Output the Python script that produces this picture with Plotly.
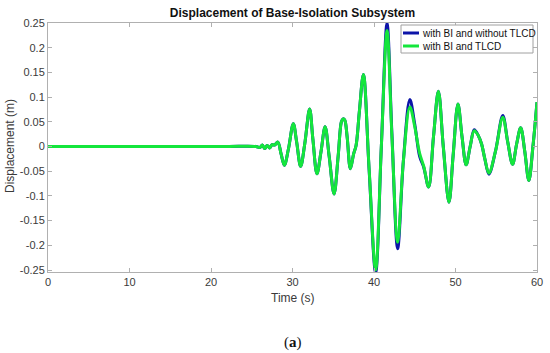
import plotly.graph_objects as go

time_s = [0, 8, 16, 22, 25.5, 26.0, 26.3, 26.6, 26.9, 27.2, 27.5, 27.8, 28.2, 28.6, 29.0, 29.5, 30.1, 30.5,
          31.0, 31.5, 32.1, 32.5, 33.0, 33.5, 34.0, 34.5, 35.1, 35.6, 36.0, 36.2, 36.4, 36.7,
          37.1, 37.5, 37.8, 38.2, 38.7, 39.4, 40.2, 40.9, 41.6, 42.2, 42.9, 43.6, 44.4, 45.0,
          45.6, 46.1, 46.7, 47.3, 47.9, 48.5, 49.2, 49.7, 50.3, 50.8, 51.3, 51.8, 52.3, 52.8,
          53.2, 53.6, 54.1, 54.9, 55.8, 56.4, 57.0, 57.5, 58.0, 58.5, 59.0, 59.5, 60.0]

disp_with_tlcd = [0, 0, 0, 0, 0, -0.002, 0.003, -0.004, 0.002, -0.003, 0.004, 0.003, 0.009, -0.015, -0.038,
                  -0.005, 0.046, 0.010, -0.040, 0.005, 0.076, 0.015, -0.055, -0.010, 0.040, -0.020,
                  -0.096, -0.020, 0.050, 0.056, 0.054, 0.020, -0.045, -0.015, 0.002, 0.070, 0.146,
                  -0.045, -0.250, 0.000, 0.235, 0.020, -0.194, -0.030, 0.080, 0.040, -0.014, -0.040,
                  -0.082, 0.020, 0.112, 0.000, -0.113, -0.020, 0.086, 0.020, -0.037, 0.000, 0.032,
                  0.022, 0.005, -0.025, -0.054, -0.010, 0.059, 0.010, -0.036, 0.005, 0.038, -0.010,
                  -0.069, 0.000, 0.090]

disp_without_tlcd = [0, 0, 0, 0, 0, -0.002, 0.003, -0.004, 0.002, -0.003, 0.004, 0.003, 0.009, -0.015, -0.038,
                     -0.005, 0.046, 0.010, -0.040, 0.005, 0.076, 0.015, -0.055, -0.010, 0.040, -0.020,
                     -0.096, -0.020, 0.050, 0.056, 0.054, 0.020, -0.045, -0.015, 0.002, 0.070, 0.146,
                     -0.047, -0.256, 0.000, 0.250, 0.025, -0.207, -0.030, 0.095, 0.045, -0.020, -0.042,
                     -0.082, 0.020, 0.112, 0.000, -0.113, -0.020, 0.086, 0.020, -0.037, 0.000, 0.034,
                     0.022, 0.005, -0.025, -0.056, -0.010, 0.063, 0.010, -0.036, 0.005, 0.038, -0.010,
                     -0.069, 0.000, 0.090]

series_names = ["with BI and without TLCD", "with BI and TLCD"]
y_tick_vals = [0.25, 0.2, 0.15, 0.1, 0.05, 0, -0.05, -0.1, -0.15, -0.2, -0.25]
y_tick_text = ["0.25", "0.2", "0.15", "0.1", "0.05", "0", "-0.05", "-0.1", "-0.15", "-0.2", "-0.25"]
x_tick_vals = [0, 10, 20, 30, 40, 50, 60]

BLUE = "#0c14a8"
GREEN = "#14e63c"
FONT = "Liberation Sans, Arial, sans-serif"

W, H = 550, 353
L, R, T, B = 48, 13, 23, 81
PW, PH = W - L - R, H - T - B


def px_x(px):
    return (px - L) / PW


def px_y(py):
    return (H - B - py) / PH


fig = go.Figure()
fig.add_trace(go.Scatter(x=time_s, y=disp_without_tlcd, mode="lines", name=series_names[0],
                         line=dict(color=BLUE, width=3, shape="spline", smoothing=1.0)))
fig.add_trace(go.Scatter(x=time_s, y=disp_with_tlcd, mode="lines", name=series_names[1],
                         line=dict(color=GREEN, width=3, shape="spline", smoothing=1.0)))

axis_common = dict(showline=True, linecolor="#b0b0b0", linewidth=1, mirror="ticks",
                   ticks="inside", ticklen=4, tickcolor="#b0b0b0", showgrid=False, zeroline=False,
                   automargin=False,
                   tickfont=dict(family=FONT, size=11, color="#3a3a3a"))

fig.update_layout(
    width=W, height=H,
    paper_bgcolor="white", plot_bgcolor="white",
    margin=dict(l=L, r=R, t=T, b=B, autoexpand=False),
    showlegend=False,
    title=dict(text="<b>Displacement of Base-Isolation Subsystem</b>", x=292.5 / W,
               xanchor="center", xref="container", y=1 - 13 / H, yanchor="middle", yref="container",
               font=dict(family=FONT, size=12, color="#111111")),
    xaxis=dict(range=[0, 60], tickvals=x_tick_vals, **axis_common),
    yaxis=dict(range=[-0.254, 0.25], tickvals=y_tick_vals, ticktext=y_tick_text, **axis_common),
)

# axis titles
fig.add_annotation(text="Time (s)", xref="paper", yref="paper", x=px_x(292.5), y=px_y(298),
                   xanchor="center", yanchor="middle", showarrow=False,
                   font=dict(family=FONT, size=12, color="#3a3a3a"))
fig.add_annotation(text="Displacement (m)", xref="paper", yref="paper", x=px_x(10), y=px_y(146),
                   xanchor="center", yanchor="middle", showarrow=False, textangle=-90,
                   font=dict(family=FONT, size=12, color="#3a3a3a"))

# caption
fig.add_annotation(text="(<b>a</b>)", xref="paper", yref="paper", x=px_x(292.5), y=px_y(342),
                   xanchor="center", yanchor="middle", showarrow=False,
                   font=dict(family="Liberation Serif, DejaVu Serif, serif", size=15, color="#111111"))

# legend box (drawn manually to match compact layout)
fig.add_shape(type="rect", xref="paper", yref="paper", x0=px_x(401), x1=px_x(533), y0=px_y(53), y1=px_y(25),
              fillcolor="white", line=dict(color="#a0a0a0", width=1), layer="above")
for i, (name, col) in enumerate(zip(series_names, [BLUE, GREEN])):
    yy = px_y(33 + i * 13)
    fig.add_shape(type="line", xref="paper", yref="paper", x0=px_x(403), x1=px_x(419), y0=yy, y1=yy,
                  line=dict(color=col, width=3), layer="above")
    fig.add_annotation(text=name, xref="paper", yref="paper", x=px_x(420), y=yy,
                       xanchor="left", yanchor="middle", showarrow=False,
                       font=dict(family=FONT, size=10, color="#111111"))

fig.write_html("out.html", config={"displayModeBar": False},
               post_script="document.body.style.margin='0';")
